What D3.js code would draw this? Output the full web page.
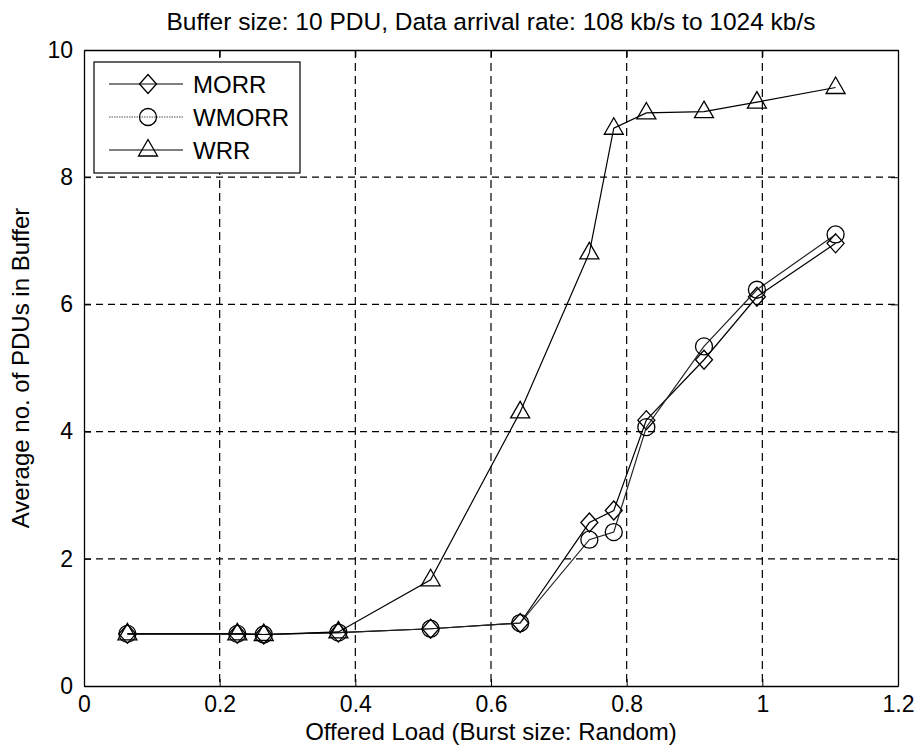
<!DOCTYPE html>
<html>
<head>
<meta charset="utf-8">
<script src="https://cdn.jsdelivr.net/npm/d3@7"></script>
<style>
  html, body { margin: 0; padding: 0; background: #fff; }
  svg { display: block; font-family: "Liberation Sans", Arial, sans-serif; }
</style>
</head>
<body>
<svg id="chart" width="921" height="756"></svg>
<script>
// Offered load (x) shared by all schemes
const offeredLoad = [0.064, 0.226, 0.265, 0.375, 0.511, 0.643, 0.745, 0.781, 0.829, 0.914, 0.992, 1.108];
// Average number of PDUs in buffer per scheduling scheme
const morr  = [0.82, 0.82, 0.81, 0.84, 0.90, 0.99, 2.57, 2.76, 4.18, 5.13, 6.12, 6.96];
const wmorr = [0.82, 0.82, 0.81, 0.84, 0.90, 0.99, 2.30, 2.42, 4.07, 5.34, 6.23, 7.10];
const wrr   = [0.82, 0.82, 0.81, 0.85, 1.67, 4.31, 6.81, 8.77, 9.01, 9.03, 9.18, 9.41];
const seriesNames = ["MORR", "WMORR", "WRR"];
const xTicks = [0, 0.2, 0.4, 0.6, 0.8, 1, 1.2];
const yTicks = [0, 2, 4, 6, 8, 10];

const titleText = "Buffer size: 10 PDU, Data arrival rate: 108 kb/s to 1024 kb/s";
const xTitle = "Offered Load (Burst size: Random)";
const yTitle = "Average no. of PDUs in Buffer";

const svg = d3.select("#chart");
const plot = { left: 84, right: 898, top: 50, bottom: 686 };

const x = d3.scaleLinear().domain([0, 1.2]).range([plot.left, plot.right]);
const y = d3.scaleLinear().domain([0, 10]).range([plot.bottom, plot.top]);

// dashed grid
const grid = svg.append("g");
grid.selectAll("line.gx").data(xTicks.slice(1, -1)).join("line")
  .attr("x1", d => x(d)).attr("x2", d => x(d))
  .attr("y1", plot.top).attr("y2", plot.bottom)
  .attr("stroke", "#000").attr("stroke-width", 1.2).attr("stroke-dasharray", "8,5");
grid.selectAll("line.gy").data(yTicks.slice(1, -1)).join("line")
  .attr("y1", d => y(d)).attr("y2", d => y(d))
  .attr("x1", plot.left).attr("x2", plot.right)
  .attr("stroke", "#000").attr("stroke-width", 1.2).attr("stroke-dasharray", "7,5");

// axes with inward ticks
const fmt = d => d3.format("~g")(d);
const axB = svg.append("g").attr("transform", `translate(0,${plot.bottom})`)
  .call(d3.axisBottom(x).tickValues(xTicks).tickFormat(fmt).tickSizeInner(-7).tickSizeOuter(0).tickPadding(10));
const axL = svg.append("g").attr("transform", `translate(${plot.left},0)`)
  .call(d3.axisLeft(y).tickValues(yTicks).tickFormat(fmt).tickSizeInner(-7).tickSizeOuter(0).tickPadding(11));
const axT = svg.append("g").attr("transform", `translate(0,${plot.top})`)
  .call(d3.axisTop(x).tickValues(xTicks).tickFormat("").tickSizeInner(-7).tickSizeOuter(0));
const axR = svg.append("g").attr("transform", `translate(${plot.right},0)`)
  .call(d3.axisRight(y).tickValues(yTicks).tickFormat("").tickSizeInner(-7).tickSizeOuter(0));
[axB, axL, axT, axR].forEach(a => {
  a.select(".domain").attr("stroke", "#000").attr("stroke-width", 1.3);
  a.selectAll(".tick line").attr("stroke", "#000");
  a.selectAll(".tick text").attr("fill", "#000").attr("font-size", 23)
    .attr("font-family", "'Liberation Sans', Arial, sans-serif");
});

// titles
svg.append("text").attr("x", (plot.left + plot.right) / 2).attr("y", 30)
  .attr("text-anchor", "middle").attr("font-size", 24.5).text(titleText);
svg.append("text").attr("x", (plot.left + plot.right) / 2).attr("y", 740)
  .attr("text-anchor", "middle").attr("font-size", 24).text(xTitle);
svg.append("text").attr("transform", `translate(29,${(plot.top + plot.bottom) / 2}) rotate(-90)`)
  .attr("text-anchor", "middle").attr("font-size", 24).text(yTitle);

// marker shapes
function marker(g, kind, cx, cy) {
  if (kind === "diamond") {
    g.append("path").attr("d", `M${cx},${cy - 9.5}L${cx + 8.5},${cy}L${cx},${cy + 9.5}L${cx - 8.5},${cy}Z`)
      .attr("fill", "none").attr("stroke", "#000").attr("stroke-width", 1.3);
  } else if (kind === "circle") {
    g.append("circle").attr("cx", cx).attr("cy", cy).attr("r", 8.5)
      .attr("fill", "none").attr("stroke", "#000").attr("stroke-width", 1.3);
  } else {
    g.append("path").attr("d", `M${cx},${cy - 10.5}L${cx + 9.5},${cy + 6}L${cx - 9.5},${cy + 6}Z`)
      .attr("fill", "none").attr("stroke", "#000").attr("stroke-width", 1.3);
  }
}

const series = [
  { name: seriesNames[0], values: morr,  kind: "diamond", color: "#000" },
  { name: seriesNames[1], values: wmorr, kind: "circle",  color: "#222" },
  { name: seriesNames[2], values: wrr,   kind: "triangle", color: "#000" }
];

const line = d3.line().x(d => x(d[0])).y(d => y(d[1]));
series.forEach(s => {
  const pts = offeredLoad.map((v, i) => [v, s.values[i]]);
  svg.append("path").datum(pts).attr("d", line)
    .attr("fill", "none").attr("stroke", s.color).attr("stroke-width", 1.2);
  const g = svg.append("g");
  pts.forEach(p => marker(g, s.kind, x(p[0]), y(p[1])));
});

// legend
const lg = svg.append("g");
const lb = { x: 94, y: 62, w: 206, h: 111 };
lg.append("rect").attr("x", lb.x).attr("y", lb.y).attr("width", lb.w).attr("height", lb.h)
  .attr("fill", "#fff").attr("stroke", "#000").attr("stroke-width", 1.2);
series.forEach((s, i) => {
  const ry = lb.y + 22 + i * 33;
  lg.append("line").attr("x1", lb.x + 15).attr("x2", lb.x + 89).attr("y1", ry).attr("y2", ry)
    .attr("stroke", i === 1 ? "#555" : "#000").attr("stroke-width", 1.2)
    .attr("stroke-dasharray", i === 1 ? "1.5,1" : null);
  marker(lg, s.kind, lb.x + 54, ry);
  lg.append("text").attr("x", lb.x + 99).attr("y", ry + 8.5).attr("font-size", 24).text(s.name);
});
</script>
</body>
</html>
